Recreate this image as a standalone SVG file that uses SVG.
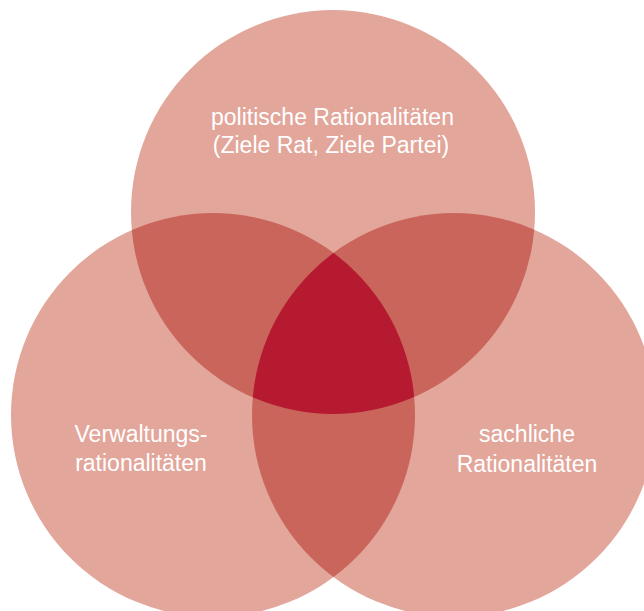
<svg xmlns="http://www.w3.org/2000/svg" width="644" height="611" viewBox="0 0 644 611">
  <style>
    .single { fill: #E2A69B; }
    .double { fill: #CA655C; }
    .triple { fill: #B51A30; }
    .label { fill: #ffffff; font-family: "Liberation Sans", Arial, Helvetica, sans-serif; font-size: 23px; text-anchor: middle; }
  </style>
  <defs>
    <clipPath id="clipTop"><circle cx="333" cy="212" r="202"/></clipPath>
    <clipPath id="clipLeft"><circle cx="213" cy="415" r="202"/></clipPath>
    <clipPath id="clipRight"><circle cx="454" cy="415" r="202"/></clipPath>
  </defs>
  <rect width="644" height="611" fill="#ffffff"/>

  <!-- base circles -->
  <g id="circle-politisch"><circle class="single" cx="333" cy="212" r="202"/></g>
  <g id="circle-verwaltung"><circle class="single" cx="213" cy="415" r="202"/></g>
  <g id="circle-sachlich"><circle class="single" cx="454" cy="415" r="202"/></g>

  <!-- pairwise overlaps -->
  <g id="overlaps">
    <circle class="double" cx="213" cy="415" r="202" clip-path="url(#clipTop)"/>
    <circle class="double" cx="454" cy="415" r="202" clip-path="url(#clipTop)"/>
    <circle class="double" cx="454" cy="415" r="202" clip-path="url(#clipLeft)"/>
    <!-- common centre -->
    <g clip-path="url(#clipLeft)">
      <circle class="triple" cx="454" cy="415" r="202" clip-path="url(#clipTop)"/>
    </g>
  </g>

  <!-- labels -->
  <g id="label-politisch" class="label">
    <text x="332.5" y="125">politische Rationalitäten</text>
    <text x="331" y="153">(Ziele Rat, Ziele Partei)</text>
  </g>
  <g id="label-verwaltung" class="label">
    <text x="141" y="442">Verwaltungs-</text>
    <text x="141" y="471">rationalitäten</text>
  </g>
  <g id="label-sachlich" class="label">
    <text x="527" y="442">sachliche</text>
    <text x="527" y="472">Rationalitäten</text>
  </g>
</svg>
